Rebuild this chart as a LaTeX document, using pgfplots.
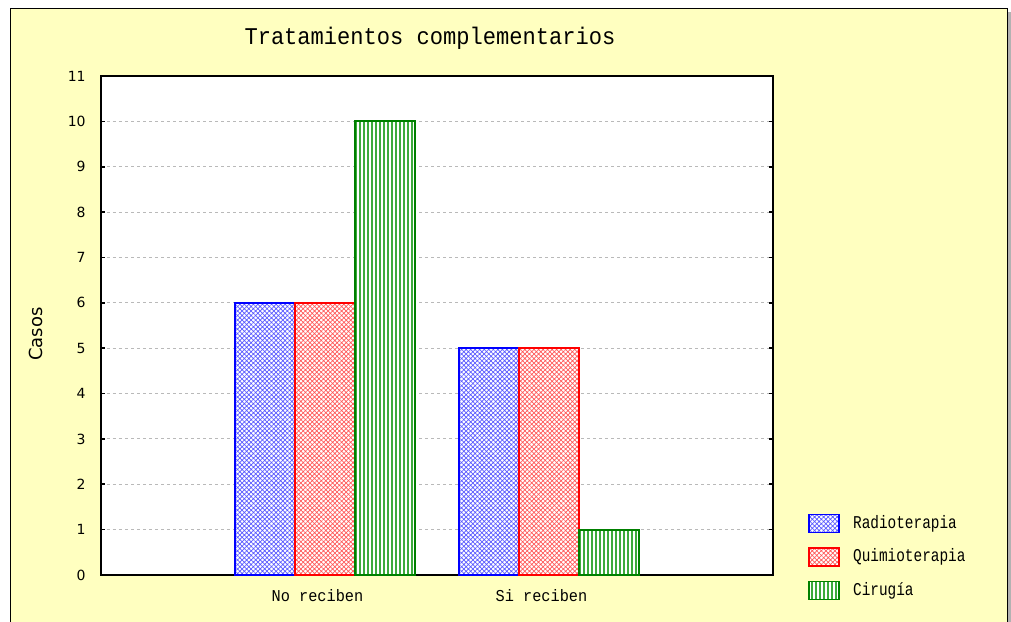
\documentclass[border=0pt]{standalone}
\usepackage{fontspec}
\usepackage{pgfplots}
\pgfplotsset{compat=1.18}
\usetikzlibrary{patterns.meta}
\newfontfamily\numfont{DejaVu Sans}
\newfontfamily\courfont[FakeStretch=0.92]{Liberation Mono}
\newfontfamily\legfont[FakeStretch=0.80]{Liberation Mono}
\definecolor{bgyellow}{RGB}{255,255,192}
\definecolor{dgreen}{RGB}{0,128,0}
\definecolor{pblue}{RGB}{90,90,255}
\definecolor{pred}{RGB}{255,90,90}
\definecolor{pgreen}{RGB}{60,170,60}
\begin{document}
\begin{tikzpicture}
\useasboundingbox (0,0) rectangle (505.5pt,310.5pt);
\fill[white] (0,0) rectangle (505.5pt,310.5pt);
\fill[gray!60] (504pt,-5pt) rectangle (505.5pt,304.5pt);
\fill[bgyellow] (5pt,-5pt) rectangle (503.5pt,306pt);
\draw[black, line width=0.5pt] (5pt,-5pt) -- (5pt,306pt) -- (503.5pt,306pt) -- (503.5pt,-5pt);
\begin{axis}[
  at={(50.5pt,23pt)}, anchor=south west,
  scale only axis, width=336pt, height=249.5pt,
  xmin=0, xmax=3, ymin=0, ymax=11,
  ytick={0,1,...,11},
  xtick={1,2}, xticklabels={No reciben, Si reciben},
  ybar=0pt, bar width=30pt,
  axis background/.style={fill=white},
  ymajorgrids,
  major grid style={draw=gray!55, dash pattern=on 1.5pt off 1.5pt, line width=0.5pt},
  tick align=inside, major tick length=2pt,
  ytick style={black, line width=0.8pt},
  xtick style={draw=none},
  axis line style={line width=1pt},
  tick label style={font=\numfont\fontsize{7}{8}\selectfont},
  /pgf/number format/assume math mode=true,
  yticklabel style={anchor=east, inner sep=0pt, xshift=-7.5pt},
  xticklabel style={anchor=base, inner sep=0pt, yshift=-13.3pt, xshift=-3.75pt, font=\courfont\fontsize{8.3}{9}\selectfont},
  title={Tratamientos complementarios},
  title style={at={(rel axis cs:0.4896,1.040)}, anchor=base, inner sep=0pt, font=\courfont\fontsize{12}{12}\selectfont},
  ylabel={Casos},
  ylabel style={at={(rel axis cs:-0.0967,0.483)}, anchor=center, font=\numfont\fontsize{9}{9}\selectfont},
  legend style={at={(rel axis cs:1.052,0.1283)}, anchor=north west, draw=none, fill=none,
    font=\legfont\fontsize{9}{9}\selectfont, row sep=4.75pt, inner sep=0pt,
    /tikz/every odd column/.append style={column sep=4.5pt}},
  legend cell align=left,
  legend image code/.code={\draw[#1, line width=0.9pt] (0pt,-4.5pt) rectangle (15pt,4.5pt);},
]
\addplot[draw=blue, line width=0.9pt, fill=white,
  postaction={pattern={Hatch[angle=45,distance=1.6pt,line width=0.35pt]}, pattern color=pblue}]
  coordinates {(1,6) (2,5)};
\addplot[draw=red, line width=0.9pt, fill=white,
  postaction={pattern={Hatch[angle=45,distance=1.6pt,line width=0.35pt]}, pattern color=pred}]
  coordinates {(1,6) (2,5)};
\addplot[draw=dgreen, line width=0.9pt, fill=white,
  postaction={pattern={Lines[angle=90,distance=2pt,line width=0.7pt]}, pattern color=pgreen}]
  coordinates {(1,10) (2,1)};
\legend{Radioterapia, Quimioterapia, Cirugía}
\end{axis}
\end{tikzpicture}
\end{document}
